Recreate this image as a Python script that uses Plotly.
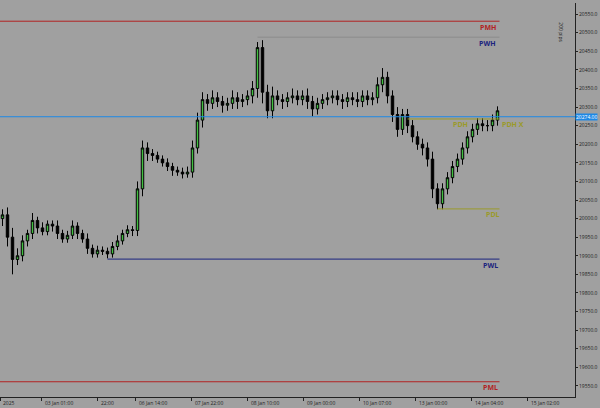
import plotly.graph_objects as go

closes = [20010, 19950, 19890, 19900, 19940, 19960, 19995, 19975, 19965, 19985,
          19980, 19960, 19945, 19955, 19980, 19960, 19945, 19920, 19905, 19915,
          19912, 19905, 19925, 19940, 19960, 19970, 19968, 20080, 20190, 20175,
          20170, 20160, 20150, 20140, 20130, 20125, 20120, 20125, 20190, 20265,
          20320, 20310, 20325, 20315, 20305, 20310, 20325, 20315, 20320, 20330,
          20350, 20460, 20340, 20290, 20330, 20320, 20315, 20325, 20330, 20320,
          20330, 20315, 20295, 20310, 20320, 20325, 20330, 20320, 20315, 20325,
          20320, 20315, 20330, 20320, 20325, 20360, 20380, 20330, 20280, 20240,
          20280, 20250, 20220, 20200, 20190, 20160, 20080, 20040, 20080, 20110,
          20140, 20160, 20190, 20220, 20240, 20255, 20250, 20250, 20265, 20290]
wick_up = [15, 20, 25, 20, 15, 10, 20, 10, 15, 10, 10, 15, 10, 12, 15, 10, 10, 15, 10, 12,
           10, 10, 12, 15, 10, 12, 10, 20, 20, 15, 12, 10, 10, 12, 10, 10, 12, 15, 20, 20,
           20, 15, 20, 15, 15, 15, 20, 15, 15, 15, 20, 15, 20, 20, 25, 15, 15, 15, 20, 15,
           15, 20, 15, 15, 15, 15, 15, 15, 15, 15, 15, 20, 15, 15, 15, 20, 25, 15, 15, 20,
           15, 15, 15, 15, 15, 15, 20, 15, 15, 15, 15, 15, 15, 15, 15, 15, 15, 15, 15, 12]
wick_dn = [20, 25, 40, 15, 15, 15, 15, 15, 10, 10, 15, 15, 10, 10, 10, 15, 10, 15, 10, 10,
           10, 12, 10, 10, 10, 10, 15, 15, 20, 20, 15, 10, 10, 12, 15, 10, 12, 10, 15, 15,
           20, 20, 15, 15, 20, 15, 15, 20, 15, 15, 20, 25, 30, 20, 20, 15, 20, 15, 15, 15,
           15, 20, 20, 15, 15, 15, 15, 15, 20, 15, 15, 15, 15, 15, 15, 15, 20, 20, 20, 20,
           15, 20, 15, 15, 20, 20, 25, 15, 15, 15, 15, 15, 15, 15, 15, 15, 15, 15, 15, 15]
opens = [20000] + closes[:-1]
highs = [max(o, c) + w for o, c, w in zip(opens, closes, wick_up)]
lows = [min(o, c) - w for o, c, w in zip(opens, closes, wick_dn)]
idx = list(range(len(closes)))

# levels: name, price, start index, colour, label x
levels = [("PMH", 20531, -1, "#b22222", 97),
          ("PWH", 20488, 51, "#8c8c8c", 97),
          ("PDH", 20268, 81, "#9a9a2a", 91.5),
          ("PDL", 20026, 87, "#9a9a2a", 98),
          ("PWL", 19891, 21, "#1a237e", 97.5),
          ("PML", 19561, -1, "#b22222", 97.5)]
label_col = {"PMH": "#b22222", "PWH": "#1a237e", "PDH": "#9a9a2a",
             "PDL": "#9a9a2a", "PWL": "#1a237e", "PML": "#b22222"}
current = 20274

xtick_pos = [-0.5, 7.8, 19, 26.6, 37.8, 49, 60.2, 71.4, 82.6, 93.8, 105]
xtick_txt = ["2025", "03 Jan 01:00", "22:00", "06 Jan 14:00", "07 Jan 22:00",
             "08 Jan 10:00", "09 Jan 00:00", "10 Jan 07:00", "13 Jan 00:00",
             "14 Jan 04:00", "15 Jan 02:00"]
ytick_vals = list(range(19550, 20600, 50))

fig = go.Figure()
fig.add_trace(go.Candlestick(
    x=idx, open=opens, high=highs, low=lows, close=closes,
    increasing=dict(line=dict(color="black", width=1), fillcolor="#41c041"),
    decreasing=dict(line=dict(color="black", width=1), fillcolor="black"),
    whiskerwidth=0, showlegend=False))

for name, price, start, col, lx in levels:
    fig.add_trace(go.Scatter(x=[start, 99.4], y=[price, price], mode="lines",
                             line=dict(color=col, width=1), showlegend=False,
                             hoverinfo="skip"))
    fig.add_annotation(x=lx, y=price, text="<b>" + name + "</b>", showarrow=False,
                       yshift=-6, font=dict(size=7, color=label_col[name]))
fig.add_annotation(x=102, y=20268, text="<b>PDH X</b>", showarrow=False, yshift=-6,
                   font=dict(size=7, color="#9a9a2a"))

fig.add_hline(y=current, line=dict(color="#1e88e5", width=1))
fig.add_annotation(x=1, xref="paper", y=current, text=f"{current}.00", showarrow=False,
                   xanchor="left", bgcolor="#1e88e5", font=dict(size=5, color="white"),
                   borderpad=0)
fig.add_annotation(x=0.985, xref="paper", y=20500, text="200 pips", textangle=90,
                   showarrow=False, font=dict(size=5, color="#222"))

for p, t in zip(xtick_pos, xtick_txt):
    fig.add_annotation(x=p, y=0, yref="paper", text=t, showarrow=False, xanchor="left",
                       yanchor="top", xshift=1, yshift=-1, font=dict(size=5, color="#222"))

fig.update_layout(
    width=600, height=408, paper_bgcolor="#a0a0a0", plot_bgcolor="#a0a0a0",
    margin=dict(l=0, r=25, t=3, b=11, pad=0, autoexpand=False),
    xaxis=dict(range=[-0.5, 114.5], rangeslider=dict(visible=False), showgrid=False,
               tickvals=xtick_pos, ticktext=[""] * len(xtick_pos), ticks="outside",
               ticklen=3, tickcolor="#222", showline=True, linecolor="#222",
               zeroline=False, automargin=False),
    yaxis=dict(range=[19520, 20580], side="right", showgrid=False,
               tickvals=ytick_vals, ticktext=[f"{v}.0" for v in ytick_vals],
               ticks="outside", ticklen=2, tickcolor="#222",
               tickfont=dict(size=5, color="#222"), showline=True,
               linecolor="#222", zeroline=False, automargin=False),
)
fig.write_html("out.html", config={"displayModeBar": False},
               post_script="document.body.style.margin='0';document.body.style.overflow='hidden';")
